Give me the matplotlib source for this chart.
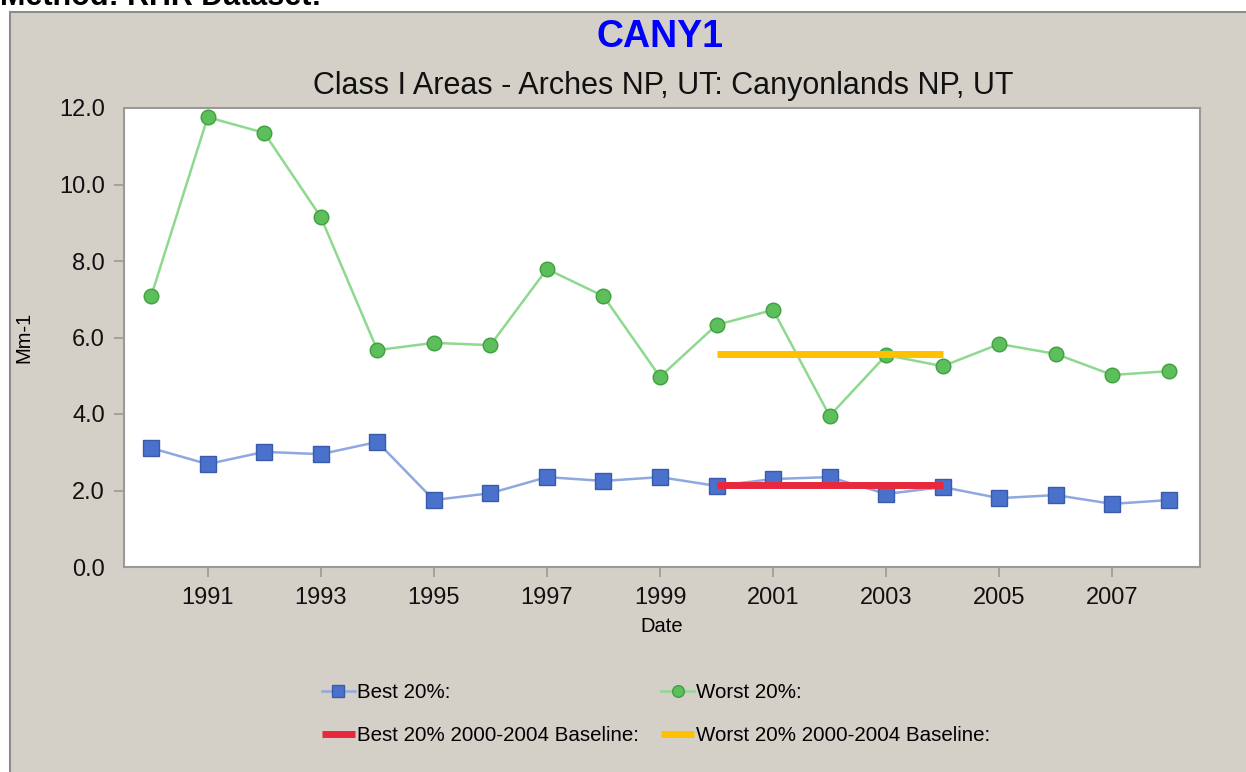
import matplotlib.pyplot as plt
from matplotlib.patches import Rectangle
from matplotlib.ticker import FormatStrFormatter

plt.rcParams['font.family'] = ['Liberation Sans', 'DejaVu Sans']

# data
years = list(range(1990, 2009))
best = [3.11, 2.69, 3.01, 2.95, 3.27, 1.75, 1.93, 2.35, 2.25, 2.35,
        2.12, 2.30, 2.35, 1.91, 2.09, 1.80, 1.88, 1.65, 1.75]
worst = [7.08, 11.76, 11.35, 9.15, 5.67, 5.86, 5.80, 7.79, 7.08, 4.97,
         6.33, 6.72, 3.95, 5.54, 5.25, 5.83, 5.57, 5.02, 5.12]
baseline_years = [2000, 2001, 2002, 2003, 2004]
best_baseline = 2.14
worst_baseline = 5.57
tick_years = list(range(1991, 2009, 2))
y_ticks = [0, 2, 4, 6, 8, 10, 12]

W, H = 1246, 772
fig = plt.figure(figsize=(W / 100, H / 100), dpi=100)
fig.patch.set_facecolor('white')

# grey chart panel behind everything
panel = Rectangle((10 / W, -0.01), 1 - 10 / W + 0.01, 1 - 12 / H + 0.01,
                  transform=fig.transFigure, facecolor='#d4d0c8',
                  edgecolor='#8c8c8c', linewidth=1.5, zorder=-10)
fig.add_artist(panel)

# header text, mostly cut off at the top (as in the original page)
fig.text(0.0, 1 - 5 / H, 'Method: RHR Dataset:', fontsize=22, fontweight='bold',
         va='baseline', ha='left')

ax = fig.add_axes([124 / W, 1 - 567 / H, (1200 - 124) / W, (567 - 108) / H])
ax.set_facecolor('white')

ax.plot(years, best, color='#8fa8e0', linewidth=1.8, marker='s', markersize=11,
        markerfacecolor='#4a72cc', markeredgecolor='#3a5aaa', markeredgewidth=1,
        label='Best 20%:', zorder=3)
ax.plot(years, worst, color='#8fd98f', linewidth=1.8, marker='o', markersize=10.5,
        markerfacecolor='#5cbf5c', markeredgecolor='#3e9f3e', markeredgewidth=1,
        label='Worst 20%:', zorder=3)
ax.plot(baseline_years, [best_baseline] * len(baseline_years), color='#e8283c',
        linewidth=5, solid_capstyle='butt', label='Best 20% 2000-2004 Baseline:', zorder=4)
ax.plot(baseline_years, [worst_baseline] * len(baseline_years), color='#ffc000',
        linewidth=5, solid_capstyle='butt', label='Worst 20% 2000-2004 Baseline:', zorder=4)

ax.set_xlim(1989.52, 2008.55)
ax.set_ylim(0, 12)
ax.set_xticks(tick_years)
ax.set_xticklabels([str(y) for y in tick_years])
ax.set_yticks(y_ticks)
ax.yaxis.set_major_formatter(FormatStrFormatter('%.1f'))
ax.tick_params(axis='both', direction='out', length=7.2, width=1.2, color='#999999',
               labelsize=17, labelcolor='#111111')
ax.tick_params(axis='y', pad=6.5)
ax.tick_params(axis='x', pad=7)

# no tick marks at the ends of the y axis
yt = ax.yaxis.get_major_ticks()
yt[0].tick1line.set_visible(False)
yt[-1].tick1line.set_visible(False)

for s in ax.spines.values():
    s.set_color('#999999')
    s.set_linewidth(1.5)

ax.set_xlabel('Date', fontsize=14.5, labelpad=6)
ax.set_ylabel('Mm-1', fontsize=14.5)
ax.yaxis.set_label_coords((33 - 124) / (1200 - 124), 0.5)

fig.text(660 / W, 1 - 37 / H, 'CANY1', fontsize=27, fontweight='bold',
         color='#0000ff', ha='center', va='center')
fig.text(663 / W, 1 - 86 / H, 'Class I Areas - Arches NP, UT: Canyonlands NP, UT',
         fontsize=22, color='#111111', ha='center', va='center')

handles, labels = ax.get_legend_handles_labels()
order = [0, 2, 1, 3]
fig.legend([handles[i] for i in order], [labels[i] for i in order],
           loc='center', bbox_to_anchor=(656 / W, 1 - 714 / H), ncol=2,
           frameon=False, fontsize=14.8, handlelength=1.6, handletextpad=0.1,
           columnspacing=1.1, labelspacing=1.15, markerscale=0.8)

fig.savefig('out.png', dpi=100, facecolor=fig.get_facecolor())
